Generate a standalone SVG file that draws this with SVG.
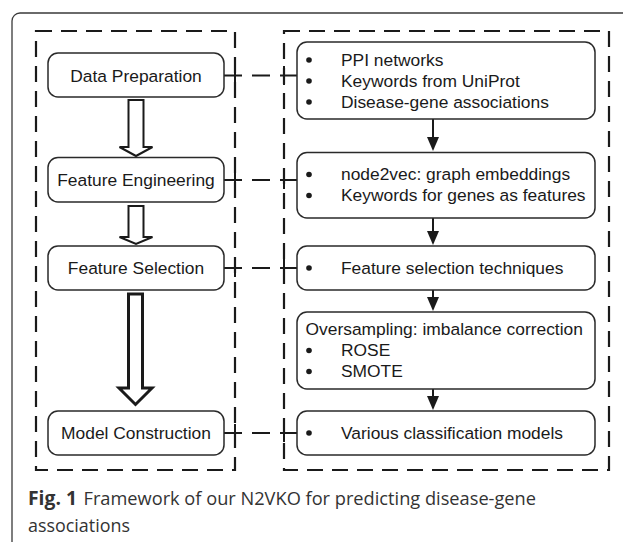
<svg xmlns="http://www.w3.org/2000/svg" width="623" height="542" viewBox="0 0 623 542">
<defs>
<marker id="ah" markerWidth="12" markerHeight="14" refX="6" refY="13" orient="auto-start-reverse" markerUnits="userSpaceOnUse" viewBox="0 0 12 14">
<path d="M0,0 L12,0 L6,14 Z" fill="#1a1a1a" transform="rotate(0)"/>
</marker>
<style>
.frame{fill:none;stroke:#3a3a3a;stroke-width:1.3}
.dbox{fill:none;stroke:#1a1a1a;stroke-width:2.2;stroke-dasharray:16 9}
.node{fill:#fff;stroke:#2a2a2a;stroke-width:1.5}
.lbl{font-family:"Liberation Sans",Arial,sans-serif;font-size:17.4px;fill:#1a1a1a}
.mid{text-anchor:middle}
.bul{fill:#1a1a1a}
.conn{fill:none;stroke:#1a1a1a;stroke-width:2}
.hollow{fill:#fff;stroke:#1a1a1a;stroke-linejoin:miter}
.cap{font-family:"Open Sans","Noto Sans",sans-serif;font-size:19px;fill:#333}
</style>
</defs>
<rect class="frame" x="12" y="13" width="640" height="580" rx="8"/>
<rect class="dbox" x="36" y="31" width="199" height="439"/>
<rect class="dbox" x="284" y="31" width="325" height="439"/>

<g id="connectors">
<path class="conn" d="M224,75.5 H242 M252,75.5 H270 M280,75.5 H297 M235,66 V85 M284,66 V85"/>
<path class="conn" d="M224,180 H242 M252,180 H270 M280,180 H297 M235,171 V189 M284,171 V189"/>
<path class="conn" d="M224,268 H242 M252,268 H270 M280,268 H297 M235,259 V277 M284,259 V277"/>
<path class="conn" d="M224,433 H242 M252,433 H270 M280,433 H297 M235,424 V442 M284,424 V442"/>
<path class="hollow" stroke-width="2" d="M128.5,100 H143.5 V147 H152.5 L136,156 L119.5,147 H128.5 Z"/>
<path class="hollow" stroke-width="2" d="M128.5,206 H143.5 V237 H152.5 L136,244 L119.5,237 H128.5 Z"/>
<path class="hollow" stroke-width="3" d="M128.5,294 H142.5 V388 H152 L135.5,404.5 L119,388 H128.5 Z"/>
<path class="conn" d="M433,119 V138" />
<path d="M427,137 H439 L433,151 Z" fill="#1a1a1a"/>
<path class="conn" d="M433,218 V232" />
<path d="M427,231 H439 L433,245 Z" fill="#1a1a1a"/>
<path class="conn" d="M433,290 V298" />
<path d="M427,297 H439 L433,311 Z" fill="#1a1a1a"/>
<path class="conn" d="M433,389 V397" />
<path d="M427,396 H439 L433,410 Z" fill="#1a1a1a"/>
</g>

<g id="n-data-prep">
<rect class="node" x="48" y="53" width="176" height="44" rx="10"/>
<text class="lbl mid" x="136" y="81.5">Data Preparation</text>
</g>
<g id="n-feat-eng">
<rect class="node" x="48" y="157.5" width="176" height="44.5" rx="10"/>
<text class="lbl mid" x="136" y="186">Feature Engineering</text>
</g>
<g id="n-feat-sel">
<rect class="node" x="48" y="246" width="176" height="44" rx="10"/>
<text class="lbl mid" x="136" y="274">Feature Selection</text>
</g>
<g id="n-model">
<rect class="node" x="48" y="411" width="176" height="44" rx="10"/>
<text class="lbl mid" x="136" y="439">Model Construction</text>
</g>

<g id="r-data">
<rect class="node" x="297" y="42" width="298" height="77" rx="10"/>
<circle class="bul" cx="309" cy="60" r="2.8"/>
<circle class="bul" cx="309" cy="81" r="2.8"/>
<circle class="bul" cx="309" cy="102" r="2.8"/>
<text class="lbl" x="341" y="65.5">PPI networks</text>
<text class="lbl" x="341" y="86.5">Keywords from UniProt</text>
<text class="lbl" x="341" y="107.5">Disease-gene associations</text>
</g>
<g id="r-feat">
<rect class="node" x="297" y="152.5" width="298" height="65.5" rx="10"/>
<circle class="bul" cx="309" cy="174.5" r="2.8"/>
<circle class="bul" cx="309" cy="195.5" r="2.8"/>
<text class="lbl" x="341" y="180">node2vec: graph embeddings</text>
<text class="lbl" x="341" y="201">Keywords for genes as features</text>
</g>
<g id="r-sel">
<rect class="node" x="297" y="246" width="298" height="44" rx="10"/>
<circle class="bul" cx="309" cy="268" r="2.8"/>
<text class="lbl" x="341" y="274">Feature selection techniques</text>
</g>
<g id="r-over">
<rect class="node" x="297" y="312" width="298" height="77" rx="10"/>
<text class="lbl" x="305.5" y="334.5">Oversampling: imbalance correction</text>
<circle class="bul" cx="309" cy="350.5" r="2.8"/>
<circle class="bul" cx="309" cy="371.5" r="2.8"/>
<text class="lbl" x="341" y="356">ROSE</text>
<text class="lbl" x="341" y="377">SMOTE</text>
</g>
<g id="r-model">
<rect class="node" x="297" y="411" width="298" height="44" rx="10"/>
<circle class="bul" cx="309" cy="433" r="2.8"/>
<text class="lbl" x="341" y="439">Various classification models</text>
</g>

<g id="caption">
<text class="cap" x="28" y="504.5" font-weight="bold" textLength="49" lengthAdjust="spacingAndGlyphs">Fig. 1</text>
<text class="cap" x="83.5" y="504.5" textLength="452.5" lengthAdjust="spacingAndGlyphs">Framework of our N2VKO for predicting disease-gene</text>
<text class="cap" x="28" y="532" textLength="102" lengthAdjust="spacingAndGlyphs">associations</text>
</g>
</svg>
